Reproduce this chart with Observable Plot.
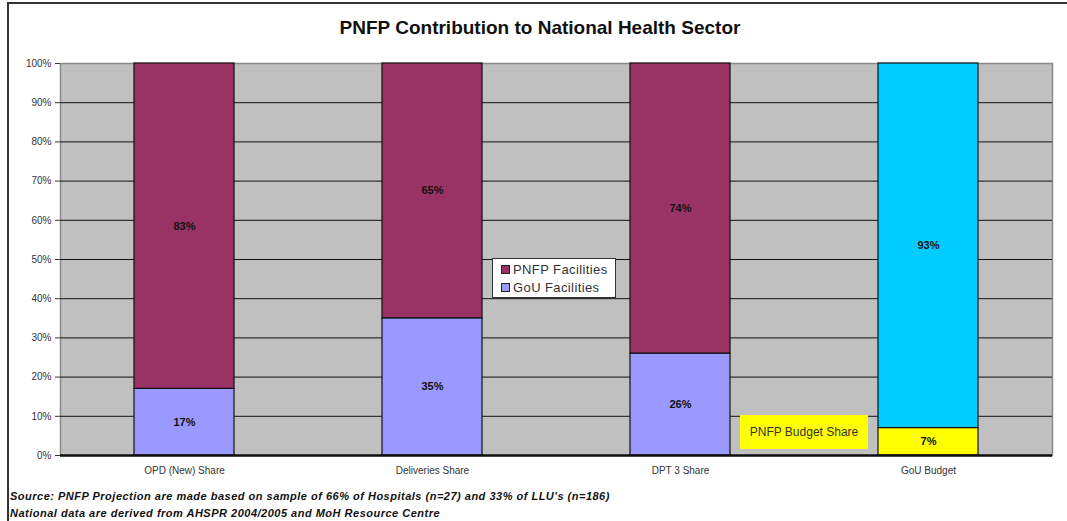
<!DOCTYPE html>
<html>
<head>
<meta charset="utf-8">
<script src="https://cdn.jsdelivr.net/npm/d3@7"></script>
<script src="https://cdn.jsdelivr.net/npm/@observablehq/plot@0.6"></script>
<style>
  body { margin: 0; background: #fff; font-family: Arial, "Liberation Sans", sans-serif; }
  #wrap { position: relative; width: 1067px; height: 521px; overflow: hidden; }
  #frame { position: absolute; left: 7px; top: 2px; width: 1060px; height: 519px; border-top: 2px solid #333; border-left: 2px solid #333; pointer-events: none; }
  #title { height: 45px; box-sizing: border-box; padding-top: 17px; padding-left: 13px; text-align: center; font-size: 19px; font-weight: bold; color: #111; line-height: 22px; }
  #legend { position: absolute; left: 492px; top: 258px; width: 124px; height: 40px; background: #fff; border: 1px solid #333; box-sizing: border-box; font-size: 13px; letter-spacing: 0.4px; color: #333; padding: 2px 0 0 8px; }
  #legend div { height: 18px; line-height: 18px; white-space: nowrap; }
  #legend span { display: inline-block; width: 7px; height: 7px; border: 1px solid #222; margin-right: 3px; vertical-align: 0px; }
  #note { position: absolute; left: 740px; top: 415px; width: 128px; height: 34px; background: #ffff00; font-size: 12px; color: #333; line-height: 34px; text-align: center; }
  #caption { position: absolute; left: 10px; top: 488px; font-size: 11px; letter-spacing: 0.5px; font-weight: bold; font-style: italic; color: #111; line-height: 17px; white-space: nowrap; }
</style>
</head>
<body>
<div id="wrap">
  <div id="frame"></div>
  <div id="title">PNFP Contribution to National Health Sector</div>
  <div id="chart"></div>
  <div id="legend"></div>
  <div id="note"></div>
  <div id="caption"></div>
</div>
<script>
const categories = ["OPD (New) Share", "Deliveries Share", "DPT 3 Share", "GoU Budget"];
const facilityCategories = ["OPD (New) Share", "Deliveries Share", "DPT 3 Share"];
const gouFacilities = [17, 35, 26];
const pnfpFacilities = [83, 65, 74];
const pnfpBudgetShare = [7];
const gouBudgetShare = [93];
const seriesNames = ["GoU Facilities", "PNFP Facilities", "PNFP Budget Share", "GoU Budget"];
const seriesColors = ["#9999FF", "#993366", "#FFFF00", "#00CCFF"];
const yTicks = [0, 10, 20, 30, 40, 50, 60, 70, 80, 90, 100];
const legendItems = ["PNFP Facilities", "GoU Facilities"];
const noteText = "PNFP Budget Share";
const captionLines = [
  "Source: PNFP Projection are made based on sample of 66% of Hospitals (n=27) and 33% of LLU's (n=186)",
  "National data are derived from AHSPR 2004/2005 and MoH Resource Centre"
];

const rows = [];
facilityCategories.forEach((c, i) => {
  rows.push({cat: c, series: "GoU Facilities", value: gouFacilities[i]});
  rows.push({cat: c, series: "PNFP Facilities", value: pnfpFacilities[i]});
});
rows.push({cat: "GoU Budget", series: "PNFP Budget Share", value: pnfpBudgetShare[0]});
rows.push({cat: "GoU Budget", series: "GoU Budget", value: gouBudgetShare[0]});

const chart = Plot.plot({
  width: 1067,
  height: 435,
  marginTop: 18,
  marginBottom: 25,
  marginLeft: 60,
  marginRight: 15,
  style: {fontFamily: "Arial, 'Liberation Sans', sans-serif", fontSize: "10px", color: "#333", background: "transparent"},
  x: {domain: categories, paddingInner: 0.597, paddingOuter: 0.2985, align: 0.5, tickSize: 0, tickPadding: 11, label: null},
  y: {domain: [0, 100], ticks: yTicks, tickFormat: d => d + "%", tickSize: 5, tickPadding: 4, label: null},
  color: {domain: seriesNames, range: seriesColors},
  marks: [
    Plot.frame({fill: "#C0C0C0", stroke: "#8a8a8a", strokeWidth: 1.5}),
    Plot.ruleY(yTicks.filter(d => d > 0 && d < 100), {stroke: "#111", strokeWidth: 1}),
    Plot.barY(rows, {x: "cat", y: "value", fill: "series", stroke: "#111", strokeWidth: 1.2}),
    Plot.text(rows, Plot.stackY({x: "cat", y: "value", text: d => d.value + "%", fill: "#111", fontWeight: "bold", fontSize: 11})),
    Plot.ruleY([0], {stroke: "#111", strokeWidth: 2.5})
  ]
});
document.getElementById("chart").appendChild(chart);

const legend = document.getElementById("legend");
legendItems.forEach(name => {
  const row = document.createElement("div");
  const sw = document.createElement("span");
  sw.style.background = seriesColors[seriesNames.indexOf(name)];
  row.appendChild(sw);
  row.appendChild(document.createTextNode(name));
  legend.appendChild(row);
});
document.getElementById("note").textContent = noteText;
const cap = document.getElementById("caption");
captionLines.forEach(l => { const d = document.createElement("div"); d.textContent = l; cap.appendChild(d); });
</script>
</body>
</html>
